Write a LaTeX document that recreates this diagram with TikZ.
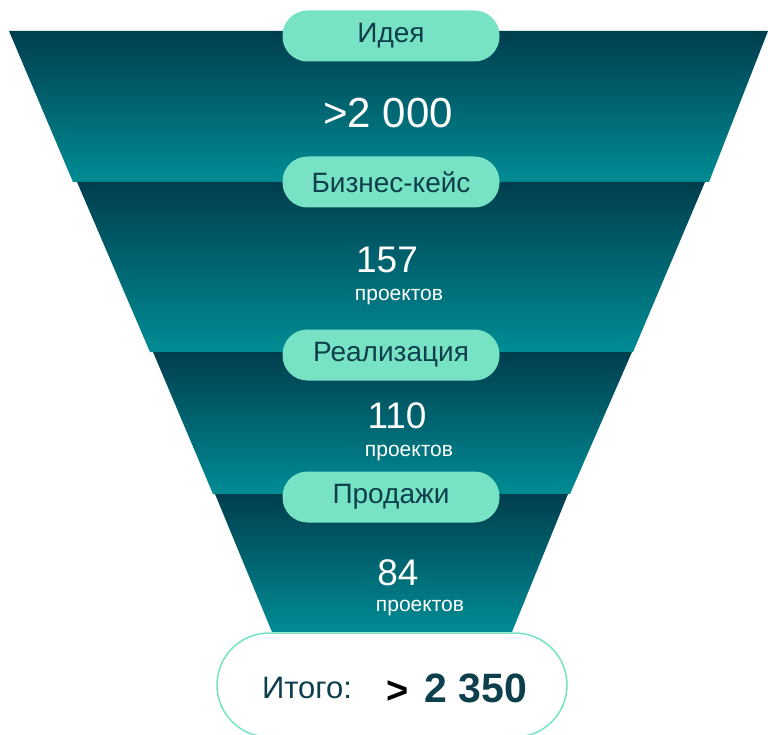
\documentclass[tikz,border=0pt]{standalone}
\usepackage{fontspec}
\setmainfont{Liberation Sans}
\usepackage{xcolor}
\definecolor{funnelTop}{HTML}{003E4E}
\definecolor{funnelBot}{HTML}{008C94}
\definecolor{pillGreen}{HTML}{78E2C4}
\definecolor{darkTeal}{HTML}{0D3F4C}
\tikzset{
  band/.style={top color=funnelTop, bottom color=funnelBot},
  stage/.style={fill=pillGreen, rounded corners=25pt, minimum width=217pt, minimum height=51pt,
    inner sep=0pt, text=darkTeal, font=\fontsize{28}{30}\selectfont},
  bignum/.style={text=white, inner sep=0pt, font=\fontsize{37}{40}\selectfont},
  smalltxt/.style={text=white, inner sep=0pt, font=\fontsize{21}{23}\selectfont}
}

\begin{document}
\begin{tikzpicture}[x=1pt, y=-1pt]
			\useasboundingbox (0,0) rectangle (768,735);
			% Funnel bands
			\shade[band] (9,31) -- (768,31) -- (709,182) -- (73,182) -- cycle;
			\shade[band] (77,182) -- (705,182) -- (633,352) -- (150,352) -- cycle;
			\shade[band] (153,352) -- (632,352) -- (570,494) -- (213,494) -- cycle;
			\shade[band] (215,494) -- (568,494) -- (512,632) -- (272,632) -- cycle;
			% Numbers
			\node[bignum, font=\fontsize{42}{46}\selectfont] (ideaNum) at (388,113) {>2 000};
			\node[bignum] (caseNum) at (387,260) {157};
			\node[smalltxt] (caseTxt) at (399,297) {проектов};
			\node[bignum] (implNum) at (397,416) {110};
			\node[smalltxt] (implTxt) at (409,453) {проектов};
			\node[bignum] (salesNum) at (398,573) {84};
			\node[smalltxt] (salesTxt) at (420,608) {проектов};
			% Stage labels
			\node[stage] (idea) at (391,36) {Идея};
			\node[stage] (bcase) at (391,182) {Бизнес-кейс};
			\node[stage] (impl) at (391,355) {Реализация};
			\node[stage] (sales) at (391,497) {Продажи};
			% Total
			\node[draw=pillGreen, line width=1.5pt, fill=white, rounded corners=52pt,
			minimum width=350pt, minimum height=104pt] (total) at (392,685) {};
			\node[text=darkTeal, inner sep=0pt, font=\fontsize{31}{34}\selectfont] (totalTxt) at (307,688) {Итого:};
			\node[inner sep=0pt, font=\bfseries\fontsize{38}{40}\selectfont] (gt) at (398,692) {>};
			\node[text=darkTeal, inner sep=0pt, font=\bfseries\fontsize{41}{44}\selectfont] (totalNum) at (476,688) {2 350};
		\end{tikzpicture}
\end{document}
